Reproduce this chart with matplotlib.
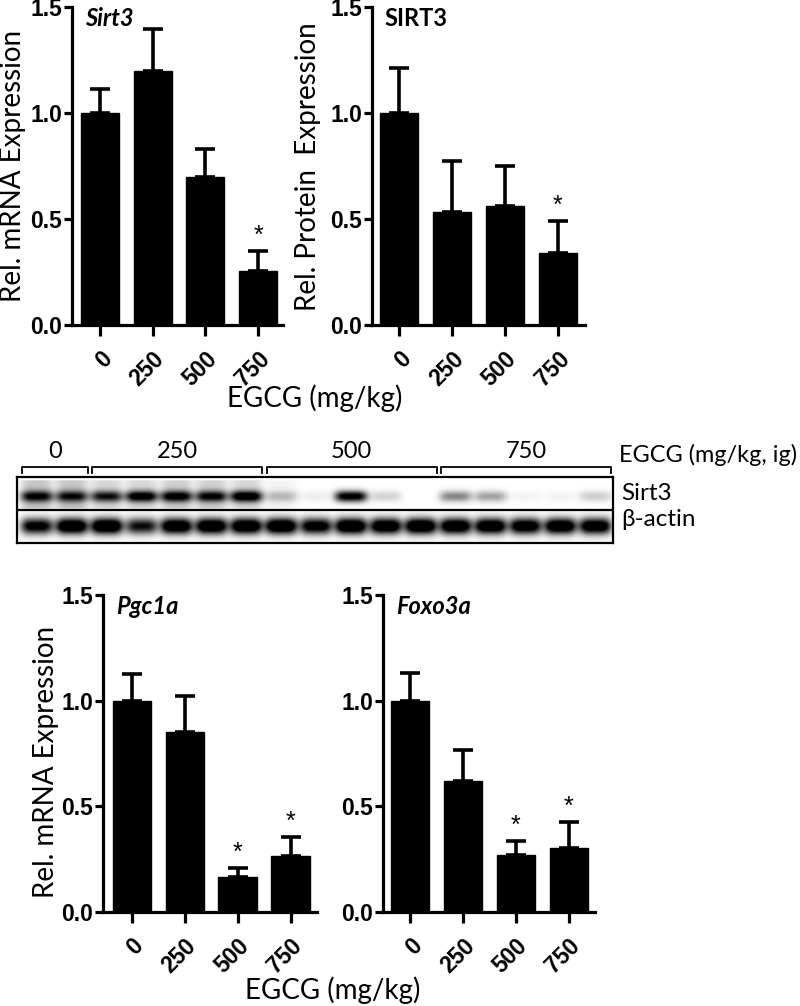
import matplotlib
matplotlib.use('Agg')
import matplotlib.pyplot as plt
import numpy as np

# doses on the x axis
doses = ['0', '250', '500', '750']

# Sirt3 mRNA (top left)
sirt3_mrna = [1.0, 1.20, 0.70, 0.256]
sirt3_mrna_err = [0.113, 0.195, 0.128, 0.094]
sirt3_mrna_sig = [False, False, False, True]

# SIRT3 protein (top right)
sirt3_prot = [1.0, 0.533, 0.561, 0.341]
sirt3_prot_err = [0.214, 0.241, 0.189, 0.150]
sirt3_prot_sig = [False, False, False, True]

# Pgc1a mRNA (bottom left)
pgc1a = [1.0, 0.85, 0.166, 0.264]
pgc1a_err = [0.125, 0.173, 0.040, 0.089]
pgc1a_sig = [False, False, True, True]

# Foxo3a mRNA (bottom right)
foxo3a = [1.0, 0.621, 0.269, 0.305]
foxo3a_err = [0.13, 0.145, 0.066, 0.122]
foxo3a_sig = [False, False, True, True]

# western blot: band darkness per lane (17 lanes)
blot_groups = ['0', '250', '500', '750']
blot_group_lanes = [2, 5, 5, 5]
sirt3_band = [0.75, 0.7, 0.72, 0.9, 0.85, 0.78, 0.95, 0.22, 0.06, 0.97, 0.15, 0.0,
              0.42, 0.32, 0.04, 0.04, 0.17]
sirt3_haze = [0.22, 0.22, 0.15, 0.15, 0.18, 0.18, 0.15, 0.04, 0, 0, 0, 0, 0, 0, 0, 0, 0]
actin_band = [0.8, 0.97, 1.0, 0.7, 0.95, 0.97, 0.97, 1.0, 0.85, 1.0, 0.95, 1.0,
              0.95, 0.95, 0.9, 0.95, 0.92]

W, H = 800, 1006
fig = plt.figure(figsize=(W / 100, H / 100), dpi=100)

ytick_font = dict(family='Liberation Sans', weight='bold', size=16.5)
xtick_font = dict(family='Liberation Sans', weight='bold', size=16.5)
label_font = 'Lato'


def px_axes(x0, x1, y_top, y_bot):
    return fig.add_axes([x0 / W, 1 - y_bot / H, (x1 - x0) / W, (y_bot - y_top) / H])


def bar_panel(ax, vals, errs, sig, title, italic, xlim):
    x = np.arange(len(vals))
    ax.bar(x, vals, width=0.72, color='black', edgecolor='black', zorder=2)
    ax.errorbar(x, vals, yerr=[np.zeros(len(errs)), errs], fmt='none', ecolor='black',
                elinewidth=2.6, capsize=7, capthick=2.6, zorder=1)
    for xi, v, e, s in zip(x, vals, errs, sig):
        if s:
            ax.text(xi, v + e + 0.015, '*', ha='center', va='bottom', fontsize=18,
                    family='Liberation Sans')
    ax.set_ylim(0, 1.5)
    ax.set_xlim(*xlim)
    ax.set_yticks([0, 0.5, 1.0, 1.5])
    ax.set_yticklabels(['0.0', '0.5', '1.0', '1.5'], fontdict=ytick_font)
    ax.set_xticks(x)
    ax.set_xticklabels(doses, fontdict=xtick_font, rotation=45, ha='right', va='top',
                       rotation_mode='anchor')
    for sp in ['top', 'right']:
        ax.spines[sp].set_visible(False)
    for sp in ['left', 'bottom']:
        ax.spines[sp].set_linewidth(2.3)
    ax.tick_params(axis='y', length=6, width=2.3, pad=1)
    ax.tick_params(axis='x', length=8, width=2.3, pad=8)
    ax.text(0.06, 1.0, title, transform=ax.transAxes, ha='left', va='top',
            fontsize=17, weight='bold', style='italic' if italic else 'normal',
            family=label_font)


ax1 = px_axes(72, 283, 7, 325)
bar_panel(ax1, sirt3_mrna, sirt3_mrna_err, sirt3_mrna_sig, 'Sirt3', True, (-0.53, 3.47))
ax2 = px_axes(372, 585, 7, 325)
bar_panel(ax2, sirt3_prot, sirt3_prot_err, sirt3_prot_sig, 'SIRT3', False, (-0.51, 3.51))
ax3 = px_axes(103, 317, 595, 912)
bar_panel(ax3, pgc1a, pgc1a_err, pgc1a_sig, 'Pgc1a', True, (-0.54, 3.5))
ax4 = px_axes(383, 595, 595, 912)
bar_panel(ax4, foxo3a, foxo3a_err, foxo3a_sig, 'Foxo3a', True, (-0.52, 3.5))

fig.text(13 / W, 1 - 166 / H, 'Rel. mRNA Expression', rotation=90, ha='center',
         va='center', fontsize=20, family=label_font)
fig.text(308 / W, 1 - 167 / H, 'Rel. Protein  Expression', rotation=90, ha='center',
         va='center', fontsize=20, family=label_font)
fig.text(46 / W, 1 - 762 / H, 'Rel. mRNA Expression', rotation=90, ha='center',
         va='center', fontsize=20, family=label_font)
fig.text(315 / W, 1 - 398 / H, 'EGCG (mg/kg)', ha='center', va='center',
         fontsize=20, family=label_font)
fig.text(333 / W, 1 - 990 / H, 'EGCG (mg/kg)', ha='center', va='center',
         fontsize=20, family=label_font)

# western blot
axb = px_axes(17.3, 613, 476.7, 542.7)
n_lanes = len(sirt3_band)
xl = (-0.564, 16.5)
gx = np.linspace(xl[0], xl[1], 900)
gy = np.linspace(0, 66, 140)
X, Y = np.meshgrid(gx, gy)
dark = np.zeros_like(X)
for i in range(n_lanes):
    lane = np.exp(-((X - i) / 0.46) ** 4)
    dark += sirt3_band[i] * lane * np.exp(-((Y - 46) / 5.5) ** 2) * 1.15
    dark += sirt3_haze[i] * lane * ((Y > 34) & (Y < 62))
    dark += actin_band[i] * lane * np.exp(-((Y - 16.5) / 8) ** 2) * 1.4
dark = np.clip(dark, 0, 1)
axb.imshow(dark, cmap='gray_r', vmin=0, vmax=1, extent=(xl[0], xl[1], 0, 66),
           origin='lower', aspect='auto', interpolation='bilinear')
axb.axhline(32.7, color='black', lw=1.6)
axb.set_xlim(*xl)
axb.set_ylim(0, 66)
axb.set_xticks([])
axb.set_yticks([])
for sp in axb.spines.values():
    sp.set_linewidth(1.6)

start = 0
for g, n in zip(blot_groups, blot_group_lanes):
    a = start - 0.42
    b = start + n - 1 + 0.45
    axb.plot([a, a, b, b], [70, 75.7, 75.7, 70], color='black', lw=1.3, clip_on=False)
    axb.text((a + b) / 2, 91, g, ha='center', va='center', fontsize=17, family=label_font)
    start += n

axb.text(16.68, 87.7, 'EGCG (mg/kg, ig)', ha='left', va='center', fontsize=16.9,
         family=label_font)
axb.text(16.73, 49.7, 'Sirt3', ha='left', va='center', fontsize=17.5, family=label_font)
axb.text(16.73, 22.7, '\u03b2-actin', ha='left', va='center', fontsize=17.5,
         family=label_font)

fig.savefig('out.png', dpi=100)
